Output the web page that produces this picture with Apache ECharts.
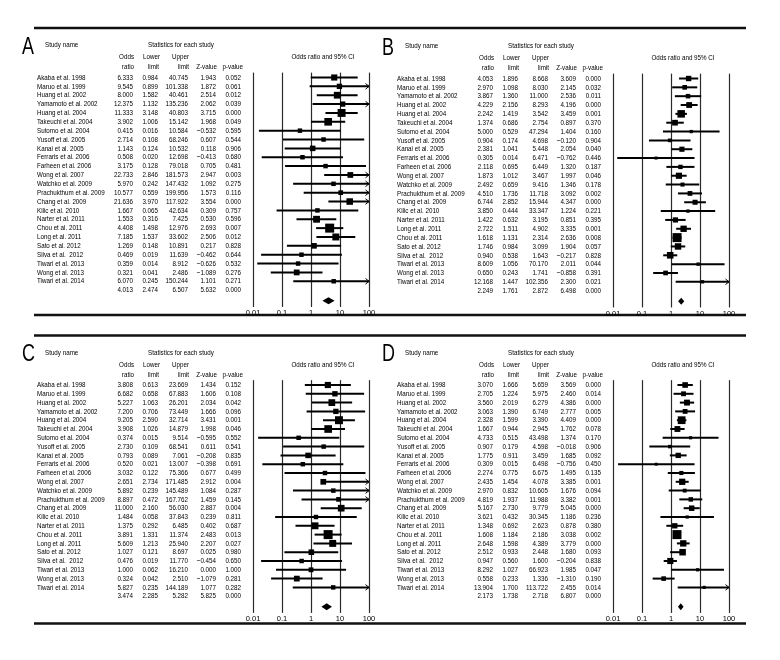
<!DOCTYPE html>
<html><head><meta charset="utf-8">
<script src="https://cdn.jsdelivr.net/npm/echarts@6.0.0/dist/echarts.min.js"></script>
<style>html,body{margin:0;padding:0;background:#fff}#c{width:780px;height:660px}</style>
</head><body><div id="c"></div>
<script>
// ---------------- DATA ----------------
const studiesACD = ['Akaba et al. 1998','Maruo et al. 1999','Huang et al. 2002','Yamamoto et al. 2002','Huang et al. 2004','Takeuchi et al. 2004','Sutomo et al. 2004','Yusoff et al. 2005','Kanai et al. 2005','Ferraris et al. 2006','Farheen et al. 2006','Wong et al. 2007','Watchko et al. 2009','Prachukthum et al. 2009','Chang et al. 2009','Kilic et al. 2010','Narter et al. 2011','Chou et al. 2011','Long et al. 2011','Sato et al. 2012','Silva et al.  2012','Tiwari et al. 2013','Wong et al. 2013','Tiwari et al. 2014'];
const studiesB = ['Akaba et al. 1998','Maruo et al. 1999','Yamamoto et al. 2002','Huang et al. 2002','Huang et al. 2004','Takeuchi et al. 2004','Sutomo et al. 2004','Yusoff et al. 2005','Kanai et al. 2005','Ferraris et al. 2006','Farheen et al. 2006','Wong et al. 2007','Watchko et al. 2009','Prachukthum et al. 2009','Chang et al. 2009','Kilic et al. 2010','Narter et al. 2011','Long et al. 2011','Chou et al. 2011','Sato et al. 2012','Silva et al.  2012','Tiwari et al. 2013','Wong et al. 2013','Tiwari et al. 2014'];
const tickLabels = ['0.01','0.1','1','10','100'];

// Panel A
const orA  = [6.333,9.545,8.000,12.375,11.333,3.902,0.415,2.714,1.143,0.508,3.175,22.733,5.970,10.577,21.636,1.667,1.553,4.408,7.185,1.269,0.469,0.359,0.321,6.070];
const loA  = [0.984,0.899,1.582,1.132,3.148,1.006,0.016,0.108,0.124,0.020,0.128,2.846,0.242,0.559,3.970,0.065,0.316,1.498,1.537,0.148,0.019,0.014,0.041,0.245];
const upA  = [40.745,101.338,40.461,135.236,40.803,15.142,10.584,68.246,10.532,12.698,79.018,181.573,147.432,199.956,117.922,42.634,7.425,12.976,33.602,10.891,11.639,8.912,2.486,150.244];
const zA   = [1.943,1.872,2.514,2.062,3.715,1.968,-0.532,0.607,0.118,-0.413,0.705,2.947,1.092,1.573,3.554,0.309,0.530,2.693,2.506,0.217,-0.462,-0.626,-1.089,1.101];
const pA   = [0.052,0.061,0.012,0.039,0.000,0.049,0.595,0.544,0.906,0.680,0.481,0.003,0.275,0.116,0.000,0.757,0.596,0.007,0.012,0.828,0.644,0.532,0.276,0.271];
const sumA = [4.013,2.474,6.507,5.632,0.000];

// Panel B
const orB  = [4.053,2.970,3.867,4.229,2.242,1.374,5.000,0.904,2.381,0.305,2.118,1.873,2.492,4.510,6.744,3.850,1.422,2.722,1.618,1.746,0.940,8.609,0.650,12.168];
const loB  = [1.896,1.098,1.360,2.156,1.419,0.686,0.529,0.174,1.041,0.014,0.695,1.012,0.659,1.736,2.852,0.444,0.632,1.511,1.131,0.984,0.538,1.056,0.243,1.447];
const upB  = [8.668,8.030,11.000,8.293,3.542,2.754,47.294,4.698,5.448,6.471,6.449,3.467,9.416,11.718,15.944,33.347,3.195,4.902,2.314,3.099,1.643,70.170,1.741,102.356];
const zB   = [3.609,2.145,2.536,4.196,3.459,0.897,1.404,-0.120,2.054,-0.762,1.320,1.997,1.346,3.092,4.347,1.224,0.851,3.335,2.636,1.904,-0.217,2.011,-0.858,2.300];
const pB   = [0.000,0.032,0.011,0.000,0.001,0.370,0.160,0.904,0.040,0.446,0.187,0.046,0.178,0.002,0.000,0.221,0.395,0.001,0.008,0.057,0.828,0.044,0.391,0.021];
const sumB = [2.249,1.761,2.872,6.498,0.000];

// Panel C
const orC  = [3.808,6.682,5.227,7.200,9.205,3.908,0.374,2.730,0.793,0.520,3.032,2.651,5.892,8.897,11.000,1.484,1.375,3.891,5.609,1.027,0.476,1.000,0.324,5.827];
const loC  = [0.613,0.658,1.063,0.706,2.590,1.026,0.015,0.109,0.089,0.021,0.122,2.734,0.239,0.472,2.160,0.058,0.292,1.331,1.213,0.121,0.019,0.062,0.042,0.235];
const upC  = [23.669,67.883,26.201,73.449,32.714,14.879,9.514,68.541,7.061,13.007,75.366,171.485,145.489,167.762,56.030,37.843,6.485,11.374,25.940,8.697,11.770,16.210,2.510,144.189];
const zC   = [1.434,1.606,2.034,1.666,3.431,1.998,-0.595,0.611,-0.208,-0.398,0.677,2.912,1.084,1.459,2.887,0.239,0.402,2.483,2.207,0.025,-0.454,0.000,-1.079,1.077];
const pC   = [0.152,0.108,0.042,0.096,0.001,0.046,0.552,0.541,0.835,0.691,0.499,0.004,0.287,0.145,0.004,0.811,0.687,0.013,0.027,0.980,0.650,1.000,0.281,0.282];
const sumC = [3.474,2.285,5.282,5.825,0.000];

// Panel D
const orD  = [3.070,2.705,3.560,3.063,2.328,1.667,4.733,0.907,1.775,0.309,2.274,2.435,2.970,4.819,5.167,3.621,1.348,1.608,2.648,2.512,0.947,8.292,0.558,13.904];
const loD  = [1.666,1.224,2.019,1.390,1.599,0.944,0.515,0.179,0.911,0.015,0.775,1.454,0.832,1.937,2.730,0.432,0.692,1.184,1.598,0.933,0.560,1.027,0.233,1.700];
const upD  = [5.659,5.975,6.279,6.749,3.390,2.945,43.498,4.598,3.459,6.498,6.675,4.078,10.605,11.988,9.779,30.345,2.623,2.186,4.389,2.448,1.600,66.923,1.336,113.722];
const zD   = [3.569,2.460,4.386,2.777,4.409,1.762,1.374,-0.018,1.685,-0.756,1.495,3.385,1.676,3.382,5.045,1.186,0.878,3.038,3.779,1.680,-0.204,1.985,-1.310,2.455];
const pD   = [0.000,0.014,0.000,0.005,0.000,0.078,0.170,0.906,0.092,0.450,0.135,0.001,0.094,0.001,0.000,0.236,0.380,0.002,0.000,0.093,0.838,0.047,0.190,0.014];
const sumD = [2.173,1.738,2.718,6.807,0.000];

// ---------------- LAYOUT ----------------
const FONT = '"Liberation Sans", Arial, sans-serif';
const FS = 8;
const SX = 0.78;           // horizontal condensing of text
const INK = '#000';
const ROW_MIN = -0.55, ROW_MAX = 25.9, DIAMOND_ROW = 25.2;
const COL = {name:37, or:133, lo:158, up:188, z:216, p:241, plotL:253, plotR:369, stats:181, ci:323, letter:22};
const HDR = {title:-3.7, h1:-2.32, h2:-1.2, letter:-3.4};

const panels = [
  {key:'A', dx:0,   y0:77.5, pitch:8.86, names:studiesACD, or:orA, lo:loA, up:upA, z:zA, p:pA, sum:sumA},
  {key:'B', dx:360, y0:78.5, pitch:8.84, names:studiesB,   or:orB, lo:loB, up:upB, z:zB, p:pB, sum:sumB},
  {key:'C', dx:0,   y0:385,  pitch:8.8,  names:studiesACD, or:orC, lo:loC, up:upC, z:zC, p:pC, sum:sumC},
  {key:'D', dx:360, y0:385,  pitch:8.8,  names:studiesACD, or:orD, lo:loD, up:upD, z:zD, p:pD, sum:sumD}
];

const fmt = v => v.toFixed(3).replace('-', '\u2212');

function txt(x, y, s, align, size) {
  return {type:'text', x:x, y:y, scaleX:SX, silent:true,
    style:{text:s, align:align||'left', verticalAlign:'middle', fontSize:size||FS, fontFamily:FONT, fill:INK}};
}

const grids = [], xAxes = [], yAxes = [], series = [], graphics = [];

panels.forEach((P, k) => {
  const top = P.y0 + ROW_MIN * P.pitch;
  const height = (ROW_MAX - ROW_MIN) * P.pitch;
  const tg = 2*k, pg = 2*k + 1;
  grids.push({left:P.dx, top:top, width:380, height:height, outerBoundsMode:'none', containLabel:false});
  xAxes.push({type:'value', gridIndex:tg, min:0, max:380, show:false});
  yAxes.push({type:'value', gridIndex:tg, min:ROW_MIN, max:ROW_MAX, inverse:true, show:false});
  grids.push({left:P.dx + COL.plotL, top:top, width:COL.plotR - COL.plotL, height:height, outerBoundsMode:'none', containLabel:false});
  xAxes.push({type:'log', logBase:10, gridIndex:pg, min:0.01, max:100,
    axisLine:{show:false}, axisTick:{show:false},
    axisLabel:{show:true, margin:2, fontSize:7.5, fontFamily:FONT, color:INK,
      formatter: v => tickLabels[Math.round(Math.log10(v)) + 2]},
    splitLine:{show:true, showMinLine:true, showMaxLine:true, lineStyle:{color:'#2a2a2a', width:1.2}}});
  yAxes.push({type:'value', gridIndex:pg, min:ROW_MIN, max:ROW_MAX, inverse:true, show:false});

  // table rows
  const rowsData = P.names.map((n, i) => [0, i]);
  rowsData.push([0, P.names.length]);
  series.push({type:'custom', xAxisIndex:tg, yAxisIndex:tg, silent:true, clip:false,
    data: rowsData, encode:{x:0, y:1},
    renderItem: (params, api) => {
      const i = params.dataIndex;
      const row = api.value(1);
      const X = c => api.coord([c, row])[0];
      const y = api.coord([0, row])[1];
      const isSum = i === P.names.length;
      const vals = isSum ? P.sum : [P.or[i], P.lo[i], P.up[i], P.z[i], P.p[i]];
      const ch = [];
      if (!isSum) ch.push(txt(X(COL.name), y, P.names[i], 'left'));
      ch.push(txt(X(COL.or), y, fmt(vals[0]), 'right'));
      ch.push(txt(X(COL.lo), y, fmt(vals[1]), 'right'));
      ch.push(txt(X(COL.up), y, fmt(vals[2]), 'right'));
      ch.push(txt(X(COL.z), y, fmt(vals[3]), 'right'));
      ch.push(txt(X(COL.p), y, fmt(vals[4]), 'right'));
      return {type:'group', children:ch};
    }});

  // study CIs and squares
  const se = P.or.map((v, i) => Math.abs(Math.log(P.up[i]) - Math.log(P.lo[i])) / 3.92);
  const seMin = Math.min.apply(null, se);
  const sizes = se.map(s => 2.2 + 6.8 * (seMin / s));
  series.push({type:'custom', xAxisIndex:pg, yAxisIndex:pg, silent:true, clip:false,
    data: P.or.map((v, i) => [v, P.lo[i], P.up[i], i]), encode:{x:[0,1,2], y:3},
    renderItem: (params, api) => {
      const i = params.dataIndex;
      const or = api.value(0), lo = api.value(1), up = api.value(2), row = api.value(3);
      const a = api.coord([Math.max(lo, 0.01), row]);
      const b = api.coord([Math.min(up, 100), row]);
      const c = api.coord([or, row]);
      const s = sizes[i];
      const ch = [
        {type:'line', shape:{x1:a[0], y1:a[1], x2:b[0], y2:b[1]}, style:{stroke:'#000', lineWidth:2}},
        {type:'rect', shape:{x:c[0]-s/2, y:c[1]-s/2, width:s, height:s}, style:{fill:'#000'}}
      ];
      if (up > 100) ch.push({type:'polyline', shape:{points:[[b[0]-3.5, b[1]-2.8],[b[0], b[1]],[b[0]-3.5, b[1]+2.8]]}, style:{stroke:'#000', lineWidth:1, fill:null}});
      if (lo < 0.01) ch.push({type:'polyline', shape:{points:[[a[0]+3.5, a[1]-2.8],[a[0], a[1]],[a[0]+3.5, a[1]+2.8]]}, style:{stroke:'#000', lineWidth:1, fill:null}});
      return {type:'group', children:ch};
    }});

  // summary diamond
  series.push({type:'custom', xAxisIndex:pg, yAxisIndex:pg, silent:true, clip:false,
    data: [[P.sum[0], P.sum[1], P.sum[2], DIAMOND_ROW]], encode:{x:[0,1,2], y:3},
    renderItem: (params, api) => {
      const row = api.value(3);
      const l = api.coord([api.value(1), row]);
      const r = api.coord([api.value(2), row]);
      const c = api.coord([api.value(0), row]);
      return {type:'polygon', shape:{points:[l, [c[0], c[1]-3.4], r, [c[0], c[1]+3.4]]}, style:{fill:'#000'}};
    }});

  // headers
  const Y = r => P.y0 + r * P.pitch;
  graphics.push(txt(P.dx + COL.letter, Y(HDR.letter), P.key, 'left', 23));
  graphics.push(txt(P.dx + COL.name + 8, Y(HDR.title), 'Study name', 'left'));
  graphics.push(txt(P.dx + COL.stats, Y(HDR.title), 'Statistics for each study', 'center'));
  graphics.push(txt(P.dx + COL.or + 1, Y(HDR.h1), 'Odds', 'right'));
  graphics.push(txt(P.dx + COL.lo + 2, Y(HDR.h1), 'Lower', 'right'));
  graphics.push(txt(P.dx + COL.up + 1, Y(HDR.h1), 'Upper', 'right'));
  graphics.push(txt(P.dx + COL.or + 1, Y(HDR.h2), 'ratio', 'right'));
  graphics.push(txt(P.dx + COL.lo + 1, Y(HDR.h2), 'limit', 'right'));
  graphics.push(txt(P.dx + COL.up + 1, Y(HDR.h2), 'limit', 'right'));
  graphics.push(txt(P.dx + COL.z + 1, Y(HDR.h2), 'Z-value', 'right'));
  graphics.push(txt(P.dx + COL.p + 2, Y(HDR.h2), 'p-value', 'right'));
  graphics.push(txt(P.dx + COL.ci, Y(HDR.h1), 'Odds ratio and 95% CI', 'center'));
});

// horizontal rules
[28, 315, 335.5, 623.5].forEach(y => {
  graphics.push({type:'line', silent:true, shape:{x1:34, y1:y, x2:746, y2:y}, style:{stroke:'#111', lineWidth:2.5}});
});

const chart = echarts.init(document.getElementById('c'), null, {renderer:'canvas'});
chart.setOption({
  backgroundColor:'#fff', animation:false,
  grid: grids, xAxis: xAxes, yAxis: yAxes, series: series, graphic: graphics
});
</script>
</body></html>
